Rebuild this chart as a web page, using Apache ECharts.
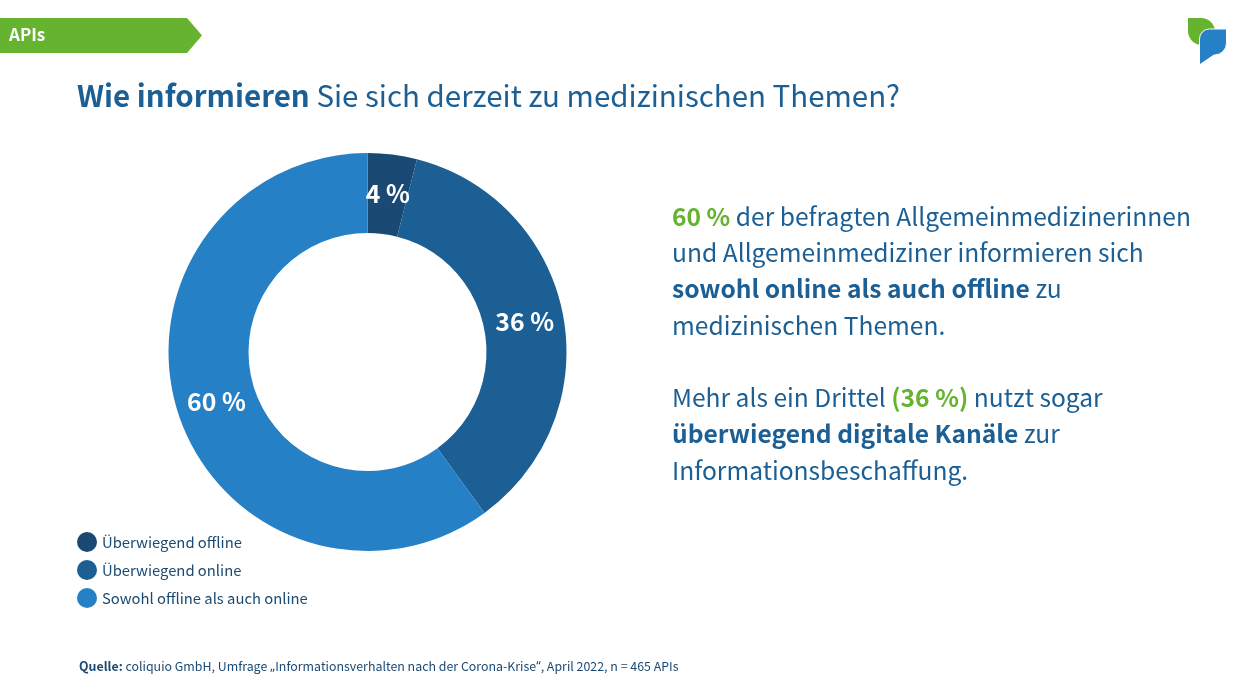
<!DOCTYPE html>
<html>
<head>
<meta charset="utf-8">
<style>
  html, body { margin: 0; padding: 0; background: #fff; }
  #chart { width: 1245px; height: 699px; }
</style>
<script src="https://cdn.jsdelivr.net/npm/echarts@6/dist/echarts.min.js"></script>
</head>
<body>
<div id="chart"></div>
<script>
// Daten
const categories = ['Überwiegend offline', 'Überwiegend online', 'Sowohl offline als auch online']
const values = [4, 36, 60]
const colors = ['#1a4a73', '#1b5f94', '#2580c6']

const FONT = '"Noto Sans CJK SC", "Noto Sans", sans-serif'
const BLUE = '#1b5f94'
const DARK = '#1a4a73'
const GREEN = '#65b32e'

const chart = echarts.init(document.getElementById('chart'), null, { renderer: 'canvas' })

chart.setOption({
  animation: false,
  backgroundColor: '#fff',
  legend: {
    orient: 'vertical',
    left: 77,
    top: 532,
    padding: 0,
    itemWidth: 20,
    itemHeight: 20,
    itemGap: 8,
    icon: 'circle',
    selectedMode: false,
    textStyle: { fontFamily: FONT, fontSize: 14.8, color: DARK, padding: [0, 0, 2, 0] },
    data: categories
  },
  series: [
    {
      type: 'pie',
      radius: [119, 199],
      center: [367.5, 352],
      startAngle: 90,
      clockwise: true,
      label: {
        show: true,
        position: 'inside',
        formatter: '{c} %',
        fontFamily: FONT,
        fontSize: 24.8,
        fontWeight: 700,
        color: '#fff'
      },
      // Labels sitzen im Original etwas weiter innen als die Ringmitte
      labelLayout: (params) => {
        if (params.dataIndex === 0) return { dy: 2.5 }
        if (params.dataIndex === 1) return { dx: -2 }
        return { dx: 3 }
      },
      labelLine: { show: false },
      emphasis: { disabled: true },
      data: categories.map((name, i) => ({
        name,
        value: values[i],
        itemStyle: { color: colors[i] }
      }))
    }
  ],
  graphic: [
    // Banner oben links
    {
      type: 'polygon',
      shape: { points: [[0, 18], [187, 18], [202, 35.5], [187, 53], [0, 53]] },
      style: { fill: GREEN }
    },
    {
      type: 'text',
      left: 9,
      top: 26,
      style: { text: 'APIs', fontFamily: FONT, fontSize: 17, fontWeight: 700, fill: '#fff' }
    },
    // Logo
    {
      type: 'rect',
      shape: { x: 1188, y: 18, width: 27, height: 27, r: [0, 14, 0, 14] },
      style: { fill: GREEN }
    },
    {
      type: 'rect',
      shape: { x: 1199.5, y: 29, width: 27, height: 26, r: [10, 0, 12, 0] },
      style: { fill: '#2580c6', stroke: '#fff', lineWidth: 1 }
    },
    {
      type: 'polygon',
      shape: { points: [[1200, 45], [1200, 64], [1214, 54.5]] },
      style: { fill: '#2580c6' }
    },
    // Titel
    {
      type: 'text',
      left: 77,
      top: 81,
      style: {
        text: '{b|Wie informieren }{n|Sie sich derzeit zu medizinischen Themen?}',
        rich: {
          b: { fontFamily: FONT, fontSize: 29.5, fontWeight: 700, fill: BLUE },
          n: { fontFamily: FONT, fontSize: 29.5, fontWeight: 400, fill: BLUE }
        }
      }
    },
    // Text rechts
    {
      type: 'text',
      left: 672,
      top: 204,
      style: {
        text: [
          '{g|60 % }{n|der befragten Allgemeinmedizinerinnen}',
          '{n|und Allgemeinmediziner informieren sich}',
          '{b|sowohl online als auch offline }{n|zu}',
          '{n|medizinischen Themen.}',
          '{n| }',
          '{n|Mehr als ein Drittel }{g|(36 %) }{n|nutzt sogar}',
          '{b|überwiegend digitale Kanäle }{n|zur}',
          '{n|Informationsbeschaffung.}'
        ].join('\n'),
        rich: {
          b: { fontFamily: FONT, fontSize: 24.6, fontWeight: 700, fill: BLUE, lineHeight: 36.3 },
          g: { fontFamily: FONT, fontSize: 24.6, fontWeight: 700, fill: GREEN, lineHeight: 36.3 },
          n: { fontFamily: FONT, fontSize: 24.6, fontWeight: 400, fill: BLUE, lineHeight: 36.3 }
        }
      }
    },
    // Quelle
    {
      type: 'text',
      left: 79,
      top: 660,
      style: {
        text: '{b|Quelle: }{n|coliquio GmbH, Umfrage }{q|„}{n|Informationsverhalten nach der Corona-Krise}{q|“}{n|, April 2022, n = 465 APIs}',
        rich: {
          b: { fontFamily: FONT, fontSize: 12.4, fontWeight: 700, fill: DARK },
          n: { fontFamily: FONT, fontSize: 12.4, fontWeight: 400, fill: DARK },
          q: { fontFamily: '"Noto Sans", sans-serif', fontSize: 12.4, fontWeight: 400, fill: DARK }
        }
      }
    }
  ]
})
</script>
</body>
</html>
